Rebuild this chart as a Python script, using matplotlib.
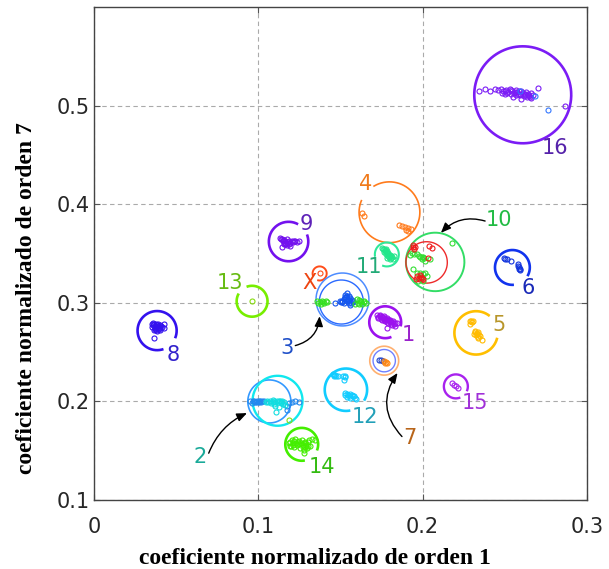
import numpy as np
import matplotlib
matplotlib.use("Agg")
import matplotlib.pyplot as plt

# ---------------- data ----------------
c1_x = [0.1722,0.1742,0.1762,0.1782,0.1802,0.1822,0.1843,0.1731,0.1752,0.1772,0.1792,0.1813,0.1782,0.1833,0.1750,0.1770,0.1790,0.1810,0.1760,0.1800,
        0.1740,0.1758,0.1775,0.1795,0.1815,0.1830,0.1745,0.1765,0.1785,0.1805,0.1825,0.1738,0.1728]
c1_y = [0.2882,0.2872,0.2865,0.2848,0.2831,0.2814,0.2798,0.2848,0.2831,0.2814,0.2798,0.2780,0.2747,0.2770,0.2858,0.2840,0.2822,0.2805,0.2845,0.2818,
        0.2865,0.2855,0.2838,0.2828,0.2810,0.2795,0.2840,0.2825,0.2808,0.2790,0.2785,0.2875,0.2860]

c2a_x = [0.0951,0.0971,0.0986,0.1002,0.1018,0.1032,0.0960,0.0995,0.1174,0.1184,0.1205,0.1225,0.1245,0.1174,0.1010,0.0965,0.0978,0.0990,0.1005,0.1025]
c2a_y = [0.2000,0.2000,0.1990,0.2000,0.1990,0.2000,0.1985,0.1995,0.1949,0.1984,0.1990,0.2000,0.1994,0.1916,0.2005,0.2000,0.1995,0.2005,0.1995,0.2000]
c2b_x = [0.1053,0.1073,0.1087,0.1103,0.1123,0.1140,0.1154,0.1103,0.1123,0.1108,0.1164,0.1045,0.1080,0.1130,0.1095,0.1150,0.1060,0.1090,0.1115,0.1135,0.1145,0.1098]
c2b_y = [0.2007,0.2000,0.2010,0.1990,0.2000,0.1984,0.1994,0.1956,0.1943,0.1898,0.1967,0.1995,0.1985,0.2008,0.2005,0.1975,0.1995,0.1995,0.2000,0.1995,0.2002,0.1975]

c3a_x = [0.1468,0.1498,0.1509,0.1519,0.1529,0.1539,0.1549,0.1559,0.1570,0.1539,0.1519,0.1549,0.1579,0.1559,0.1535,0.1545,
         0.1525,0.1540,0.1530,0.1545,0.1555,0.1565,0.1510,0.1500,0.1575]
c3a_y = [0.3001,0.3017,0.3007,0.3042,0.3085,0.3103,0.3075,0.3052,0.3028,0.3017,0.3001,0.3001,0.3007,0.2974,0.3060,0.3040,
         0.3065,0.3070,0.3045,0.3025,0.3015,0.3000,0.3020,0.3005,0.3020]
c3b_x = [0.1357,0.1373,0.1387,0.1401,0.1418,0.1381,0.1600,0.1620,0.1640,0.1657,0.1610,0.1630,0.1590,0.1365,0.1410,0.1395,0.1605,0.1615,0.1625,0.1645]
c3b_y = [0.3017,0.3007,0.3017,0.3001,0.3007,0.2994,0.3035,0.3017,0.3007,0.3001,0.2984,0.2994,0.2984,0.2995,0.3020,0.3010,0.3000,0.3025,0.3005,0.3015]

c4_x = [0.1630,0.1646,0.1857,0.1875,0.1894,0.1912,0.1930,0.1912,0.1900]
c4_y = [0.3917,0.3882,0.3787,0.3777,0.3767,0.3757,0.3747,0.3726,0.3740]

c5_x = [0.2285,0.2299,0.2289,0.2309,0.2319,0.2330,0.2339,0.2325,0.2350,0.2339,0.2360,0.2313,0.2320,0.2330,0.2345,0.2335,0.2295]
c5_y = [0.2814,0.2804,0.2787,0.2814,0.2712,0.2696,0.2702,0.2679,0.2661,0.2645,0.2628,0.2689,0.2700,0.2685,0.2670,0.2655,0.2820]

c6_x = [0.2495,0.2512,0.2536,0.2582,0.2588,0.2593,0.2582,0.2500,0.2585,0.2590]
c6_y = [0.3459,0.3442,0.3424,0.3373,0.3347,0.3333,0.3391,0.3450,0.3360,0.3340]

c7a_x = [0.1737,0.1748,0.1758]
c7a_y = [0.2424,0.2417,0.2407]
c7b_x = [0.1766,0.1778,0.1786,0.1772]
c7b_y = [0.2414,0.2401,0.2391,0.2391]

c8_x = [0.0350,0.0364,0.0384,0.0404,0.0424,0.0354,0.0374,0.0394,0.0415,0.0364,0.0384,0.0404,0.0364,0.0424,
        0.0357,0.0370,0.0378,0.0390,0.0398,0.0410,0.0370,0.0380,0.0395,0.0358,0.0375,0.0392]
c8_y = [0.2787,0.2790,0.2780,0.2780,0.2787,0.2757,0.2747,0.2747,0.2757,0.2722,0.2712,0.2722,0.2645,0.2747,
        0.2775,0.2768,0.2760,0.2770,0.2760,0.2770,0.2735,0.2730,0.2735,0.2795,0.2790,0.2788]

c9_x = [0.1130,0.1144,0.1158,0.1174,0.1188,0.1205,0.1225,0.1245,0.1154,0.1174,0.1195,0.1144,0.1164,
        0.1138,0.1150,0.1165,0.1180,0.1195,0.1210,0.1160,0.1175,0.1185,0.1150,0.1215,0.1235]
c9_y = [0.3662,0.3652,0.3638,0.3645,0.3632,0.3625,0.3628,0.3628,0.3594,0.3584,0.3577,0.3567,0.3611,
        0.3650,0.3642,0.3630,0.3620,0.3610,0.3615,0.3600,0.3605,0.3595,0.3625,0.3632,0.3618]

c10a_x = [0.1944,0.1954,0.1948,0.2041,0.2056,0.2035,0.1965,0.1985,0.1995,0.1960,0.2005,0.1940,0.1975,0.1990]
c10a_y = [0.3584,0.3571,0.3550,0.3577,0.3557,0.3459,0.3272,0.3279,0.3255,0.3238,0.3238,0.3565,0.3250,0.3265]
c10b_x = [0.1934,0.1965,0.1985,0.2005,0.1995,0.2015,0.2178,0.1965,0.2015,0.2026,0.2005,0.1974,0.1924,0.2046,0.1944,
          0.1950,0.1975,0.1995,0.2010,0.1985,0.2000,0.1990]
c10b_y = [0.3510,0.3492,0.3469,0.3469,0.3442,0.3424,0.3611,0.3306,0.3306,0.3272,0.3221,0.3221,0.3482,0.3449,0.3340,
          0.3500,0.3480,0.3470,0.3455,0.3300,0.3290,0.3250]

c11_x = [0.1752,0.1762,0.1772,0.1782,0.1792,0.1802,0.1813,0.1819,0.1802,0.1782,0.1766,0.1778,0.1827,
         0.1758,0.1770,0.1780,0.1790,0.1797,0.1808,0.1788,0.1775,0.1795,0.1810]
c11_y = [0.3561,0.3543,0.3526,0.3510,0.3492,0.3482,0.3469,0.3449,0.3442,0.3459,0.3516,0.3550,0.3475,
         0.3550,0.3538,0.3522,0.3505,0.3490,0.3475,0.3480,0.3500,0.3462,0.3458]

c12_x = [0.1454,0.1468,0.1482,0.1515,0.1529,0.1519,0.1458,0.1525,0.1539,0.1555,0.1570,0.1584,0.1539,0.1596,0.1559,
         0.1462,0.1475,0.1530,0.1545,0.1560,0.1575,0.1590,0.1530]
c12_y = [0.2279,0.2272,0.2254,0.2261,0.2244,0.2221,0.2254,0.2085,0.2075,0.2078,0.2068,0.2051,0.2045,0.2024,0.2035,
         0.2265,0.2262,0.2255,0.2065,0.2060,0.2055,0.2040,0.2070]

c13_x = [0.0962,0.1184]
c13_y = [0.3017,0.1814]

c14_x = [0.1184,0.1205,0.1225,0.1245,0.1265,0.1286,0.1306,0.1326,0.1347,0.1195,0.1215,0.1236,0.1255,0.1275,0.1296,0.1280,0.1312,
         0.1190,0.1210,0.1220,0.1230,0.1240,0.1250,0.1260,0.1270,0.1280,0.1290,0.1300,0.1285,0.1270,0.1300,0.1210,0.1200]
c14_y = [0.1577,0.1610,0.1617,0.1600,0.1610,0.1593,0.1610,0.1617,0.1610,0.1549,0.1542,0.1560,0.1526,0.1509,0.1526,0.1475,0.1549,
         0.1590,0.1580,0.1595,0.1575,0.1585,0.1565,0.1580,0.1560,0.1575,0.1555,0.1545,0.1535,0.1540,0.1590,0.1560,0.1545]

c15_x = [0.2178,0.2191,0.2204,0.2218]
c15_y = [0.2187,0.2170,0.2153,0.2136]

c16a_x = [0.2345,0.2380,0.2410,0.2441,0.2460,0.2475,0.2490,0.2505,0.2520,0.2530,0.2545,0.2555,0.2565,0.2575,0.2590,0.2600,0.2610,0.2620,0.2630,0.2640,0.2650,0.2660,0.2670,0.2700,0.2660,0.2600,0.2550,0.2500,0.2480,0.2866,
          0.2500,0.2515,0.2535,0.2560,0.2580,0.2595,0.2615,0.2625,0.2645,0.2655,0.2585,0.2540,0.2570,0.2635]
c16a_y = [0.5150,0.5170,0.5150,0.5168,0.5160,0.5175,0.5150,0.5165,0.5140,0.5170,0.5150,0.5130,0.5160,0.5140,0.5120,0.5150,0.5130,0.5110,0.5140,0.5120,0.5100,0.5130,0.5110,0.5180,0.5075,0.5070,0.5085,0.5120,0.5130,0.4998,
          0.5150,0.5135,0.5125,0.5145,0.5125,0.5105,0.5100,0.5125,0.5105,0.5090,0.5150,0.5160,0.5110,0.5085]
c16b_x = [0.2590,0.2684,0.2763]
c16b_y = [0.5150,0.5100,0.4957]

cX_x = [0.1373]
cX_y = [0.3299]

# enclosing circles: centre x, centre y, radius (x units)
circ_names = ["16", "4", "11", "10", "10r", "9", "X", "13", "8", "3", "3i", "1",
              "7", "7i", "12", "5", "15", "6", "2", "2c", "14"]
circ_cx = [0.2609,0.1798,0.1782,0.2076,0.2024,0.1184,0.1373,0.0962,0.0384,0.1512,0.1505,0.1772,
           0.1766,0.1766,0.1533,0.2325,0.2202,0.2546,0.1067,0.1117,0.1264]
circ_cy = [0.5112,0.3920,0.3492,0.3416,0.3411,0.3623,0.3299,0.3017,0.2719,0.3035,0.3009,0.2804,
           0.2414,0.2414,0.2119,0.2696,0.2153,0.3360,0.2000,0.2007,0.1565]
circ_r = [0.0295,0.0185,0.0073,0.0178,0.0126,0.0120,0.0043,0.0094,0.0119,0.0161,0.0134,0.0097,
          0.0088,0.0068,0.0129,0.0132,0.0073,0.0106,0.0131,0.0152,0.0100]

x_ticks = [0, 0.1, 0.2, 0.3]
x_ticklabels = ["0", "0.1", "0.2", "0.3"]
y_ticks = [0.1, 0.2, 0.3, 0.4, 0.5]
y_ticklabels = ["0.1", "0.2", "0.3", "0.4", "0.5"]

# ---------------- styles ----------------
point_sets = [
    (c1_x, c1_y, "#9b11ee"), (c2a_x, c2a_y, "#2288ee"), (c2b_x, c2b_y, "#11dde0"),
    (c3a_x, c3a_y, "#1456ee"), (c3b_x, c3b_y, "#33e020"), (c4_x, c4_y, "#ff7b1c"),
    (c5_x, c5_y, "#ffbb00"), (c6_x, c6_y, "#1133dd"), (c7a_x, c7a_y, "#2244cc"),
    (c7b_x, c7b_y, "#ff8811"), (c8_x, c8_y, "#3311ee"), (c9_x, c9_y, "#7311ee"),
    (c10b_x, c10b_y, "#33dd33"), (c10a_x, c10a_y, "#ee1a1a"), (c11_x, c11_y, "#22e68a"),
    (c12_x, c12_y, "#11ccff"), (c13_x, c13_y, "#88dd11"), (c14_x, c14_y, "#44ee00"),
    (c15_x, c15_y, "#a822ee"), (c16a_x, c16a_y, "#7b1cf5"), (c16b_x, c16b_y, "#3377ff"),
    (cX_x, cX_y, "#ff4d1a"),
]

circ_style = {  # color, linewidth, arc start, arc end (deg)
    "16": ("#7b1cf5", 1.9, 0, 360), "4": ("#ff7b1c", 1.2, 156, 482),
    "11": ("#2ee89a", 1.5, 247, 551), "10": ("#33dd66", 1.4, 0, 360),
    "10r": ("#ee2a2a", 1.0, 0, 360), "9": ("#7311ee", 1.9, 61, 381),
    "X": ("#ff4d1a", 1.4, 250, 560), "13": ("#77ee00", 1.9, 150, 471),
    "8": ("#3311ee", 1.9, -23, 289), "3": ("#4d8cff", 1.1, 0, 360),
    "3i": ("#2a6aff", 1.0, 0, 360), "1": ("#9b11ee", 1.9, -15, 293),
    "7": ("#ffb070", 1.2, 0, 360), "7i": ("#7080ff", 1.0, 0, 360),
    "12": ("#11ccff", 1.9, -31, 282), "5": ("#ffbf00", 1.9, 51, 347),
    "15": ("#a822ee", 1.7, -24, 292), "6": ("#1133ee", 1.9, -30, 275),
    "2": ("#3399ff", 1.2, 0, 360), "2c": ("#11e8ee", 1.7, 0, 360),
    "14": ("#44ee00", 1.9, -22, 281),
}

labels = [  # text, x, y, color
    ("1", 0.1914, 0.2679, "#9a22cc"), ("2", 0.0647, 0.1440, "#1aaa99"),
    ("3", 0.1174, 0.2543, "#1f4fc8"), ("4", 0.1650, 0.4204, "#f07a1a"),
    ("5", 0.2467, 0.2780, "#b8962a"), ("6", 0.2640, 0.3154, "#1a2ab8"),
    ("7", 0.1924, 0.1628, "#b8651a"), ("8", 0.0481, 0.2475, "#3322cc"),
    ("9", 0.1292, 0.3805, "#5e22b8"), ("10", 0.2465, 0.3841, "#22bb44"),
    ("11", 0.1675, 0.3360, "#22aa77"), ("12", 0.1650, 0.1847, "#22a0b8"),
    ("13", 0.0826, 0.3204, "#66bb11"), ("14", 0.1389, 0.1336, "#33bb11"),
    ("15", 0.2319, 0.1984, "#a030d8"), ("16", 0.2805, 0.4571, "#5522aa"),
    ("X", 0.1312, 0.3204, "#ee4411"),
]

arrows = [  # start (x, y), tip (x, y), rad
    ((0.2380, 0.3831), (0.2111, 0.3711), 0.3),
    ((0.1225, 0.2567), (0.1373, 0.2865), 0.35),
    ((0.0698, 0.1475), (0.0931, 0.1882), -0.2),
    ((0.1874, 0.1644), (0.1847, 0.2289), -0.4),
]

# ---------------- figure ----------------
W, H = 609, 569
fig = plt.figure(figsize=(W / 100, H / 100), dpi=100)
ax_l, ax_b, ax_w, ax_h = 94, 69, 493, 492.7
ax = fig.add_axes([ax_l / W, ax_b / H, ax_w / W, ax_h / H])
xlim = (0, 0.3)
ylim = (0.1, 0.6)
ax.set_xlim(*xlim)
ax.set_ylim(*ylim)

# ratio making circles round in pixels
k = ((ylim[1] - ylim[0]) / ax_h) / ((xlim[1] - xlim[0]) / ax_w)

for name, cx, cy, r in zip(circ_names, circ_cx, circ_cy, circ_r):
    col, lw, t1, t2 = circ_style[name]
    t = np.radians(np.linspace(t1, t2, 200))
    ax.plot(cx + r * np.cos(t), cy + r * k * np.sin(t), color=col, lw=lw,
            solid_capstyle="butt", zorder=3)

for xs, ys, col in point_sets:
    ax.plot(xs, ys, "o", ls="none", mfc="none", mec=col, ms=3.6, mew=0.8, zorder=4)

for txt, x, y, col in labels:
    ax.text(x, y, txt, color=col, fontsize=15, ha="center", va="center",
            family="DejaVu Sans", zorder=5)

for (sx, sy), (tx, ty), rad in arrows:
    ax.annotate("", xy=(tx, ty), xytext=(sx, sy),
                arrowprops=dict(arrowstyle="-|>,head_length=0.6,head_width=0.25",
                                connectionstyle=f"arc3,rad={rad}", color="black",
                                lw=1.0, shrinkA=0, shrinkB=0, mutation_scale=10),
                zorder=6)

ax.set_xticks(x_ticks)
ax.set_xticklabels(x_ticklabels)
ax.set_yticks(y_ticks)
ax.set_yticklabels(y_ticklabels)
ax.tick_params(axis="both", direction="in", top=True, right=True, length=4,
               width=0.8, color="#555555", labelsize=15, labelcolor="#262626")
ax.tick_params(axis="x", pad=12)
ax.tick_params(axis="y", pad=3)
ax.grid(True, color="#aaaaaa", lw=0.8, linestyle=(0, (4, 3)))
ax.set_axisbelow(True)
for s in ax.spines.values():
    s.set_color("#444444")
    s.set_linewidth(1.0)

fig.text(315 / W, (H - 564.5) / H, "coeficiente normalizado de orden 1",
         family="Liberation Serif", weight="bold", fontsize=17,
         ha="center", va="baseline")
fig.text(27 / W, (H - 298) / H, "coeficiente normalizado de orden 7",
         family="Liberation Serif", weight="bold", fontsize=17,
         ha="center", va="center", rotation=90)

fig.savefig("out.png", dpi=100)
